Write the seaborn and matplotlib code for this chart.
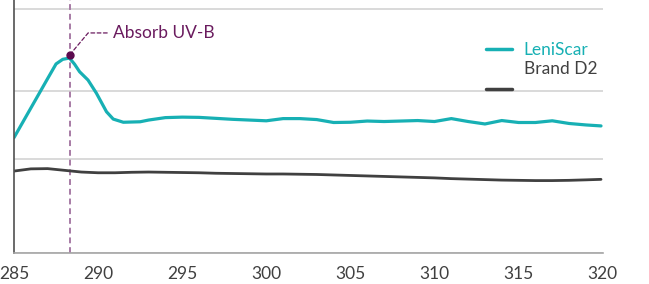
import matplotlib
matplotlib.use("Agg")
import matplotlib.pyplot as plt
import seaborn as sns
import pandas as pd
import numpy as np
from matplotlib.lines import Line2D
from matplotlib.legend_handler import HandlerLine2D

# 数据
wavelength_leni = [285, 286, 287, 287.5, 287.9, 288.3, 288.6, 288.9, 289.4, 289.9, 290.5,
                   290.9, 291.5, 292.5, 293, 294, 295, 296, 297, 298, 299, 300,
                   301, 302, 303, 304, 305, 306, 307, 308, 309, 310, 311, 312, 313,
                   314, 315, 316, 317, 318, 319, 319.9]
leniscar = [47.4, 59.5, 71.6, 77.6, 79.5, 80.0, 77.5, 74.4, 71.0, 65.6, 58.0,
            55.0, 53.7, 53.9, 54.6, 55.6, 55.8, 55.7, 55.3, 54.9, 54.6, 54.3,
            55.2, 55.2, 54.8, 53.6, 53.7, 54.2, 54.0, 54.2, 54.4, 54.0, 55.2, 54.0, 53.0,
            54.4, 53.6, 53.6, 54.3, 53.2, 52.6, 52.2]

wavelength_d2 = [285, 286, 287, 288, 289, 290, 291, 292, 293, 294, 295, 296, 297, 298,
                 299, 300, 301, 302, 303, 304, 305, 306, 307, 308, 309, 310, 311, 312,
                 313, 314, 315, 316, 317, 318, 319, 319.9]
brand_d2 = [33.7, 34.6, 34.7, 34.0, 33.3, 33.0, 33.0, 33.2, 33.3, 33.2, 33.1, 33.0, 32.8,
            32.7, 32.6, 32.5, 32.5, 32.4, 32.3, 32.1, 31.9, 31.7, 31.5, 31.3, 31.1, 30.9,
            30.6, 30.4, 30.2, 30.0, 29.9, 29.8, 29.8, 29.9, 30.1, 30.3]

series_names = ["LeniScar", "Brand D2"]
x_ticks = [285, 290, 295, 300, 305, 310, 315, 320]
y_grid = [0, 38.5, 66.6, 100]
peak_x = 288.3
peak_y = 81.2
note_text = "Absorb UV-B"

TEAL = "#17B0B4"
DARK = "#404040"
PURPLE = "#6A1B5E"


class ShiftedHandler(HandlerLine2D):
    """图例线条下移"""
    def __init__(self, dy=0, **kw):
        super().__init__(**kw)
        self.dy = dy

    def create_artists(self, legend, orig_handle, xdescent, ydescent,
                       width, height, fontsize, trans):
        return super().create_artists(legend, orig_handle, xdescent,
                                      ydescent + self.dy, width, height,
                                      fontsize, trans)


sns.set_style("white")
plt.rcParams['font.family'] = ['Lato', 'DejaVu Sans']

df = pd.concat([
    pd.DataFrame({"wl": wavelength_leni, "val": leniscar, "series": series_names[0]}),
    pd.DataFrame({"wl": wavelength_d2, "val": brand_d2, "series": series_names[1]}),
])

fig = plt.figure(figsize=(6.49, 2.84), dpi=100)
ax = fig.add_axes([14 / 649, 1 - 253.3 / 284, (602.7 - 14) / 649, 253.3 / 284])

sns.lineplot(data=df, x="wl", y="val", hue="series", sort=False,
             palette={series_names[0]: TEAL, series_names[1]: DARK},
             ax=ax, legend=False)
ax.lines[0].set_linewidth(2.3)
ax.lines[0].set_solid_joinstyle("round")
ax.lines[1].set_linewidth(2.0)

ax.set_xlim(285, 320)
ax.set_ylim(0, 103.8)
ax.set_xticks(x_ticks)
ax.set_yticks(y_grid)
ax.set_yticklabels([])
ax.set_xlabel("")
ax.set_ylabel("")
ax.grid(axis='y', color="#D9D9D9", linewidth=1.4)
ax.grid(axis='x', visible=False)
ax.set_axisbelow(True)

for s in ["top", "right"]:
    ax.spines[s].set_visible(False)
ax.spines["left"].set_color("#505050")
ax.spines["left"].set_linewidth(1.2)
ax.spines["bottom"].set_color("#A6A6A6")
ax.spines["bottom"].set_linewidth(1.2)
ax.tick_params(axis='x', direction='out', length=4, width=1, color="#A6A6A6",
               labelsize=12.5, labelcolor=DARK, pad=5)
ax.tick_params(axis='y', length=0)

# 峰值标注
ax.axvline(peak_x, color="#A77BA5", linestyle=(0, (3, 2)), linewidth=1.4, zorder=1)
ax.plot([peak_x], [peak_y], "o", color="#5B0A4E", markersize=5, zorder=5)
ax.annotate(note_text, xy=(peak_x, peak_y), xytext=(290.9, 90.3),
            fontsize=12.5, color=PURPLE, va="center", ha="left",
            arrowprops=dict(arrowstyle="-", linestyle=(0, (3, 2)), color=PURPLE,
                            linewidth=0.9, shrinkA=2, shrinkB=2,
                            connectionstyle="angle,angleA=0,angleB=50,rad=0"))

# 图例
handles = [Line2D([], [], color=TEAL, linewidth=2.5),
           Line2D([], [], color=DARK, linewidth=2.5)]
leg = fig.legend(handles, series_names, loc="upper right",
                 bbox_to_anchor=(606 / 649, 1 - 33 / 284), frameon=False,
                 fontsize=12.5, handlelength=1.5, handletextpad=0.7,
                 borderpad=0, labelspacing=0.2,
                 handler_map={handles[1]: ShiftedHandler(dy=30)})
leg.get_texts()[0].set_color(TEAL)
leg.get_texts()[1].set_color(DARK)

fig.savefig("out.png", dpi=100)
